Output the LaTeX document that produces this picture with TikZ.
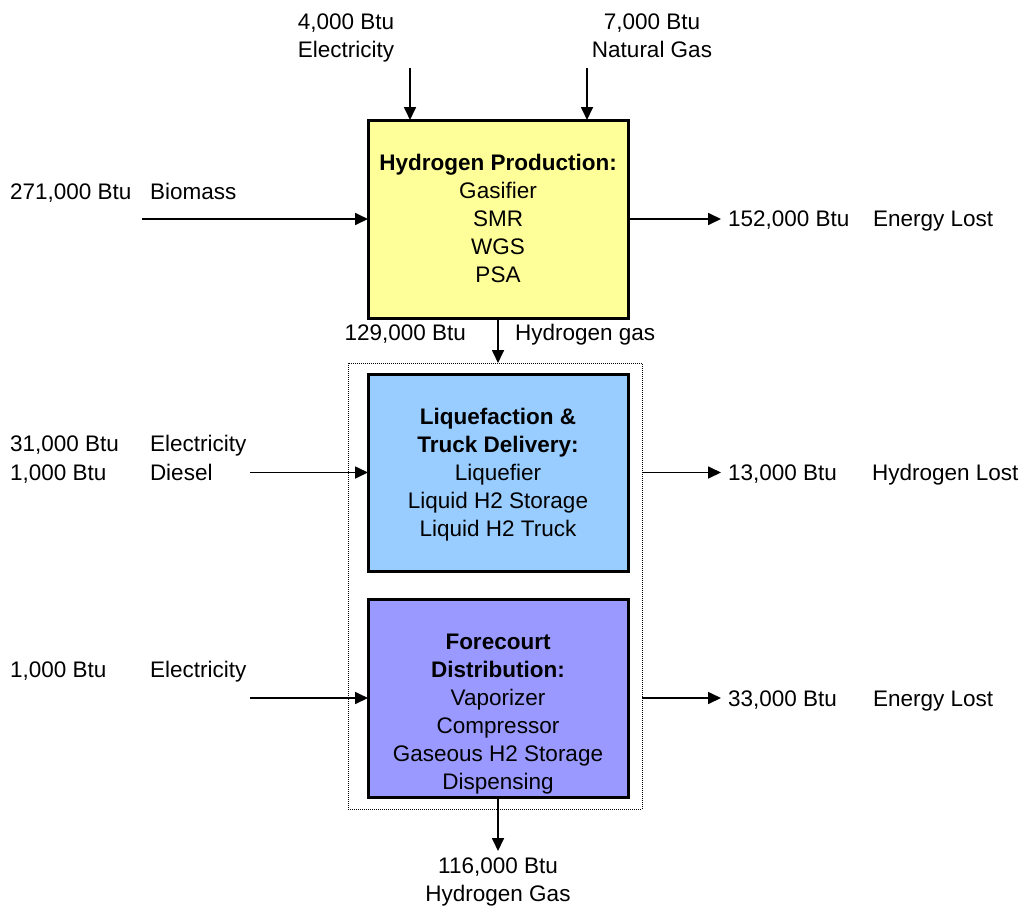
\documentclass[tikz,border=0pt]{standalone}
\usepackage{fontspec}
\setmainfont{Liberation Sans}
\usetikzlibrary{arrows.meta}
\definecolor{pyellow}{HTML}{FFFF99}
\definecolor{pblue}{HTML}{99CCFF}
\definecolor{ppurple}{HTML}{9999FF}
\begin{document}
\begin{tikzpicture}[x=1pt,y=-1pt,
  every node/.style={font=\fontsize{22.5}{28}\selectfont, inner sep=0pt, outer sep=0pt},
  box/.style={draw, line width=3pt, minimum width=260pt, minimum height=198pt},
  boxtext/.style={anchor=north, align=center},
  grp/.style={draw, line width=0.9pt, dash pattern=on 1pt off 1pt, minimum width=294pt, minimum height=446pt},
  flow/.style={line width=1.7pt, -{Triangle[length=13pt,width=12pt]}},
  lw/.style={anchor=base west},
  le/.style={anchor=base east},
  pair/.style={anchor=north, align=center}]
\useasboundingbox (0,0) rectangle (1024,907);

% group and boxes
\node[grp] (group) at (495,586) {};
\node[box, fill=pyellow] (prod) at (498,219) {};
\node[box, fill=pblue, minimum height=197pt] (liq) at (498,472.5) {};
\node[box, fill=ppurple] (fore) at (498,698) {};

\node[boxtext] (prodtxt) at (498,154.5) {\textbf{Hydrogen Production:}\\Gasifier\\SMR\\WGS\\PSA};
\node[boxtext] (liqtxt) at (498,408.5) {\textbf{Liquefaction \&}\\\textbf{Truck Delivery:}\\Liquefier\\Liquid H2 Storage\\Liquid H2 Truck};
\node[boxtext] (foretxt) at (498,634.5) {\textbf{Forecourt}\\\textbf{Distribution:}\\Vaporizer\\Compressor\\Gaseous H2 Storage\\Dispensing};

% top inputs
\node[pair] (elec) at (346,14) {4,000 Btu\\Electricity};
\node[pair] (ng) at (652,14) {7,000 Btu\\Natural Gas};
\coordinate (elecS) at (410,68);
\coordinate (ngS) at (587,68);
\draw[flow] (elecS) -- (elecS |- prod.north);
\draw[flow] (ngS) -- (ngS |- prod.north);

% biomass
\node[lw] (bioA) at (10,199) {271,000 Btu};
\node[lw] (bioB) at (150,199) {Biomass};
\coordinate (bioS) at (142,219);
\draw[flow] (bioS) -- (prod.west);

% energy lost 1
\coordinate (lost1) at (721,219);
\draw[flow] (prod.east) -- (lost1);
\node[lw] (lost1A) at (728,226) {152,000 Btu};
\node[lw] (lost1B) at (873,226) {Energy Lost};

% hydrogen gas
\draw[flow] (prod.south) -- (prod.south |- group.north);
\node[le] (h2A) at (466,340) {129,000 Btu};
\node[lw] (h2B) at (515,340) {Hydrogen gas};

% liquefaction inputs
\node[lw] (liqA) at (10,451) {31,000 Btu};
\node[lw] (liqB) at (150,451) {Electricity};
\node[lw] (liqC) at (10,480) {1,000 Btu};
\node[lw] (liqD) at (150,480) {Diesel};
\coordinate (liqS) at (250,472.5);
\draw[flow] (liqS) -- (liq.west);

% hydrogen lost
\coordinate (lost2) at (721,472.5);
\draw[flow] (group.east |- liq.east) -- (lost2);
\node[lw] (lost2A) at (728,480) {13,000 Btu};
\node[lw] (lost2B) at (872,480) {Hydrogen Lost};

% forecourt input
\node[lw] (foreA) at (10,677) {1,000 Btu};
\node[lw] (foreB) at (150,677) {Electricity};
\coordinate (foreS) at (250,698);
\draw[flow] (foreS) -- (fore.west);

% energy lost 3
\coordinate (lost3) at (721,698);
\draw[flow] (group.east |- fore.east) -- (lost3);
\node[lw] (lost3A) at (728,706) {33,000 Btu};
\node[lw] (lost3B) at (873,706) {Energy Lost};

% output
\coordinate (outE) at (498,851);
\draw[flow] (fore.south) -- (outE);
\node[pair] (out) at (498,858) {116,000 Btu\\Hydrogen Gas};
\end{tikzpicture}
\end{document}
